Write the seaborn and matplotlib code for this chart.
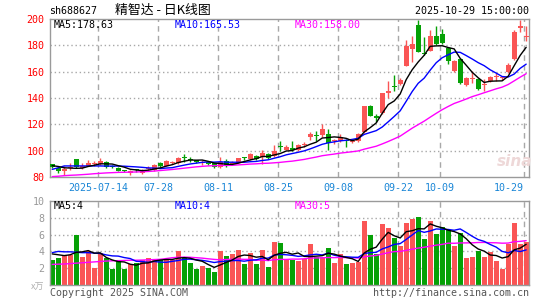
import numpy as np
import pandas as pd
import matplotlib
matplotlib.use("Agg")
import matplotlib.pyplot as plt
import seaborn as sns

# ---------------- data ----------------
opens = [89.6, 87.1, 84.3, 86.5, 93.4, 87.1, 88.6, 90.2, 89.9, 91.6,
         88.0, 87.1, 85.0, 82.8, 85.3, 82.8, 86.3, 85.3, 90.9, 88.4,
         90.4, 90.4, 94.6, 93.4, 92.6, 91.0, 91.4, 90.6, 87.8, 92.4,
         90.2, 91.0, 94.4, 93.8, 96.0, 95.2, 97.3, 96.0, 103.0, 100.8,
         102.0, 100.3, 104.6, 110.3, 112.0, 111.6, 112.8, 107.1, 107.0, 108.3,
         106.8, 107.3, 114.1, 134.2, 126.7, 128.4, 143.5, 148.3, 150.4, 164.5,
         177.5, 195.5, 174.0, 175.5, 187.3, 188.3, 177.7, 160.5, 169.4, 149.5,
         154.8, 154.3, 150.2, 153.2, 155.7, 155.2, 159.8, 169.5, 193.0, 186.6]
highs = [90.2, 87.8, 88.4, 90.6, 93.4, 90.4, 92.7, 92.2, 94.2, 92.0,
         89.0, 87.6, 85.6, 85.0, 86.0, 86.0, 88.0, 89.5, 91.2, 92.7,
         92.0, 95.2, 97.5, 95.0, 93.2, 93.0, 91.8, 90.9, 95.0, 93.4,
         92.2, 94.6, 95.3, 98.0, 96.6, 100.3, 98.0, 104.0, 107.5, 104.5,
         107.0, 105.3, 106.5, 114.1, 115.3, 119.9, 116.6, 109.0, 112.3, 109.0,
         109.0, 113.3, 134.2, 134.5, 128.0, 143.8, 153.0, 157.4, 155.0, 184.0,
         187.0, 199.5, 186.0, 191.7, 195.0, 192.5, 179.0, 169.0, 170.0, 156.0,
         160.5, 155.0, 154.7, 157.0, 159.0, 157.0, 166.5, 191.5, 199.5, 194.8]
lows = [87.2, 83.3, 81.5, 85.0, 87.0, 86.1, 88.0, 88.6, 89.3, 86.6,
        86.8, 84.5, 84.0, 81.5, 84.0, 82.0, 85.5, 84.8, 87.6, 88.0,
        89.5, 90.0, 91.3, 91.5, 90.8, 89.3, 88.8, 87.0, 86.5, 87.5,
        89.3, 90.6, 92.6, 93.0, 92.8, 89.5, 94.0, 94.9, 99.5, 100.3,
        100.0, 99.8, 102.8, 108.0, 107.5, 110.3, 100.3, 105.3, 106.3, 103.0,
        105.8, 106.5, 113.5, 126.0, 121.9, 128.0, 140.0, 145.0, 149.5, 164.0,
        167.0, 175.0, 172.5, 175.5, 180.5, 181.0, 166.0, 160.0, 150.5, 149.0,
        151.5, 146.0, 145.5, 152.5, 153.0, 154.0, 159.0, 169.0, 190.5, 183.0]
closes = [87.8, 84.6, 85.8, 86.9, 87.8, 88.6, 90.9, 90.5, 92.2, 87.8,
          87.8, 84.8, 84.8, 84.3, 85.0, 85.3, 86.6, 89.1, 88.4, 91.9,
          90.7, 94.7, 94.2, 93.0, 91.3, 91.3, 89.7, 87.8, 91.1, 88.7,
          90.5, 94.3, 94.1, 97.3, 93.5, 98.5, 94.7, 99.8, 102.6, 103.0,
          100.3, 104.0, 104.8, 112.3, 110.8, 116.1, 105.8, 107.3, 110.3, 107.3,
          107.0, 112.3, 134.2, 126.7, 125.0, 143.5, 145.5, 148.0, 153.3, 179.5,
          181.0, 175.0, 173.5, 187.3, 181.0, 181.7, 168.2, 168.2, 151.4, 155.0,
          155.0, 147.2, 150.5, 155.9, 156.0, 155.5, 164.8, 190.5, 195.0, 186.8]
volumes = [3.03, 3.26, 3.6, 3.6, 5.94, 3.34, 4.0, 2.06, 3.8, 3.2,
           1.86, 3.0, 1.86, 2.45, 2.64, 3.0, 3.2, 3.0, 3.0, 3.0,
           3.0, 4.0, 3.3, 2.64, 1.94, 2.25, 2.06, 1.6, 4.08, 3.46,
           3.69, 4.15, 2.45, 3.8, 2.45, 4.15, 2.17, 5.13, 4.97, 3.03,
           3.03, 2.9, 3.1, 4.85, 3.3, 3.3, 4.39, 2.56, 3.69, 2.45,
           2.56, 2.76, 7.57, 5.94, 3.69, 7.3, 6.83, 5.55, 4.62, 7.42,
           7.88, 8.04, 5.44, 7.57, 6.06, 6.95, 6.6, 4.62, 6.17, 3.22,
           3.34, 4.08, 3.34, 3.88, 2.9, 1.86, 4.89, 7.42, 4.89, 5.17]

# moving-average values at the left edge (need history before the first day)
price_ma5_head = [88.6, 88.0, 87.0, 86.8]
price_ma10_head = [85.8, 87.0, 88.4, 88.4, 88.4, 88.4, 88.4, 88.4, 88.4]
price_ma30_head = [80.3, 80.6, 81.0, 81.3, 81.5, 81.8, 82.1, 82.5, 82.8, 83.1,
                   83.3, 83.5, 83.6, 83.7, 83.8, 84.0, 84.2, 84.5, 84.9, 85.3,
                   85.7, 86.2, 86.7, 87.2, 87.7, 88.1, 88.4, 88.6, 88.8]
vol_ma5_head = [3.7, 3.6, 3.5, 3.6]
vol_ma10_head = [3.85, 4.0, 3.95, 3.95, 3.9, 3.85, 3.85, 3.8, 3.75]
vol_ma30_head = [2.45, 2.48, 2.5, 2.55, 2.6, 2.65, 2.7, 2.75, 2.8, 2.85,
                 2.88, 2.9, 2.92, 2.95, 2.95, 2.97, 3.0, 3.03, 3.06, 3.15,
                 3.25, 3.3, 3.32, 3.3, 3.25, 3.2, 3.12, 3.05, 3.0]

tick_dates = ["2025-07-14", "2025-07-28", "2025-08-11", "2025-08-25",
              "2025-09-08", "2025-09-22", "2025-10-09", "2025-10-29"]
tick_labels = ["2025-07-14", "07-28", "08-11", "08-25", "09-08", "09-22", "10-09", "10-29"]
price_ticks = [80, 100, 120, 140, 160, 180, 200]
vol_ticks = [2, 4, 6, 8, 10]
price_ma_text = ["MA5:178.63", "MA10:165.53", "MA30:158.00"]
vol_ma_text = ["MA5:4", "MA10:4", "MA30:5"]
title_code = "sh688627"
title_name = "精智达 - 日K线图"
title_time = "2025-10-29 15:00:00"

# ---------------- derived ----------------
alldays = pd.bdate_range("2025-07-02", "2025-10-29")
dates = [d for d in alldays if not (pd.Timestamp("2025-10-01") <= d <= pd.Timestamp("2025-10-08"))]
n = len(dates)
idx = np.arange(n)
date_str = [d.strftime("%Y-%m-%d") for d in dates]
tick_pos = [date_str.index(t) for t in tick_dates]

df = pd.DataFrame({"i": idx, "open": opens, "high": highs, "low": lows,
                   "close": closes, "vol": volumes})
df["dir"] = np.where(df["close"] >= df["open"], "up", "down")


def ma(series, w, head):
    m = series.rolling(w).mean()
    m.iloc[:len(head)] = head
    return m


df["ma5"] = ma(df["close"], 5, price_ma5_head)
df["ma10"] = ma(df["close"], 10, price_ma10_head)
df["ma30"] = ma(df["close"], 30, price_ma30_head)
df["vma5"] = ma(df["vol"], 5, vol_ma5_head)
df["vma10"] = ma(df["vol"], 10, vol_ma10_head)
df["vma30"] = ma(df["vol"], 30, vol_ma30_head)

# ---------------- style ----------------
sns.set_style("white")
plt.rcParams["font.family"] = ["DejaVu Sans Mono", "Noto Sans CJK SC"]
RED = "#fa5555"
GREEN = "#06a106"
GRID = "#a8a8a8"
FRAME = "#9a9a9a"
FS = 7.2

W, H = 545, 300
fig = plt.figure(figsize=(W / 100, H / 100), dpi=100)
ax = fig.add_axes([50 / W, 1 - 177 / H, 479 / W, 158 / H])
axv = fig.add_axes([50 / W, 1 - 285 / H, 479 / W, 84 / H])

xlim = (-0.37, 79.47)
grid_off = -0.33

for a in (ax, axv):
    a.set_xlim(*xlim)
    for s in a.spines.values():
        s.set_color(FRAME)
        s.set_linewidth(1)
    for p in tick_pos:
        a.axvline(p + grid_off, color=GRID, lw=1, ls=(0, (4, 3)), zorder=0)

colors = np.where(df["dir"] == "up", RED, GREEN)

# ---------------- price panel ----------------
ax.set_ylim(80, 200)
for yv in price_ticks[1:-1]:
    ax.axhline(yv, color=GRID, lw=1, ls=(0, (1, 2)), zorder=0)

ax.vlines(df["i"], df["low"], df["high"], colors=colors, lw=1, zorder=2)
body_bottom = np.minimum(df["open"], df["close"])
body_h = np.maximum(np.abs(df["close"] - df["open"]), 0.75)
ax.bar(df["i"], body_h, bottom=body_bottom, width=0.84, color=colors, lw=0,
       zorder=3, antialiased=False)

sns.lineplot(data=df, x="i", y="ma30", color="#ff00ff", lw=1, ax=ax, zorder=4)
sns.lineplot(data=df, x="i", y="ma10", color="#0000ff", lw=1, ax=ax, zorder=4)
sns.lineplot(data=df, x="i", y="ma5", color="#000000", lw=1, ax=ax, zorder=5)

ax.set_xlabel("")
ax.set_ylabel("")
ax.set_yticks(price_ticks)
ax.set_yticklabels([str(t) for t in price_ticks], color="#ff0000", fontsize=FS)
ax.tick_params(axis="y", length=0, pad=4)
ax.set_xticks([p + grid_off for p in tick_pos])
ax.set_xticklabels(tick_labels, color="#1a86d6", fontsize=FS)
ax.tick_params(axis="x", length=0, pad=4)
ax.get_xticklabels()[-1].set_horizontalalignment("right")

for k, (txt, c) in enumerate(zip(price_ma_text, ["#000000", "#0000ff", "#ff00ff"])):
    fig.text((54 + 120.5 * k) / W, 1 - 25 / H, txt, color=c, fontsize=FS,
             ha="left", va="center")

fig.text(497 / W, 1 - 162 / H, "sina", color="#eed8d8", fontsize=11,
         fontstyle="italic", fontweight="bold", ha="left", va="center",
         family="DejaVu Sans", zorder=1)

# ---------------- volume panel ----------------
axv.set_ylim(0, 10)
for yv in vol_ticks[:-1]:
    axv.axhline(yv, color=GRID, lw=1, ls=(0, (1, 2)), zorder=0)

axv.bar(df["i"], df["vol"], width=0.84, color=colors, lw=0, zorder=2, antialiased=False)
sns.lineplot(data=df, x="i", y="vma30", color="#ff00ff", lw=1, ax=axv, zorder=4)
sns.lineplot(data=df, x="i", y="vma10", color="#0000ff", lw=1, ax=axv, zorder=4)
sns.lineplot(data=df, x="i", y="vma5", color="#000000", lw=1, ax=axv, zorder=5)
axv.set_xlim(*xlim)
axv.set_xlabel("")
axv.set_ylabel("")
axv.set_xticks([])
axv.set_yticks(vol_ticks)
axv.set_yticklabels([str(t) for t in vol_ticks], color="#999999", fontsize=FS)
axv.tick_params(axis="y", length=0, pad=4)

for k, (txt, c) in enumerate(zip(vol_ma_text, ["#000000", "#0000ff", "#ff00ff"])):
    fig.text((54 + 120.5 * k) / W, 1 - 206 / H, txt, color=c, fontsize=FS,
             ha="left", va="center")

# ---------------- header / footer texts ----------------
fig.text(49 / W, 1 - 11 / H, title_code, fontsize=FS, ha="left", va="center", color="#000000")
fig.text(115 / W, 1 - 10 / H, title_name, fontsize=9.3, ha="left", va="center",
         color="#000000", family=["Noto Sans CJK SC", "DejaVu Sans"])
fig.text(529 / W, 1 - 11 / H, title_time, fontsize=FS, ha="right", va="center", color="#000000")
fig.text(44 / W, 1 - 287 / H, "x万", fontsize=6.5, ha="right", va="center", color="#b0b0b0",
         fontstyle="italic", family=["Noto Sans CJK SC", "DejaVu Sans"])
fig.text(50 / W, 1 - 293 / H, "Copyright 2025 SINA.COM", fontsize=FS, ha="left", va="center",
         color="#555555")
fig.text(529 / W, 1 - 293 / H, "http://finance.sina.com.cn", fontsize=FS, ha="right",
         va="center", color="#555555")

fig.savefig("out.png", dpi=100)
